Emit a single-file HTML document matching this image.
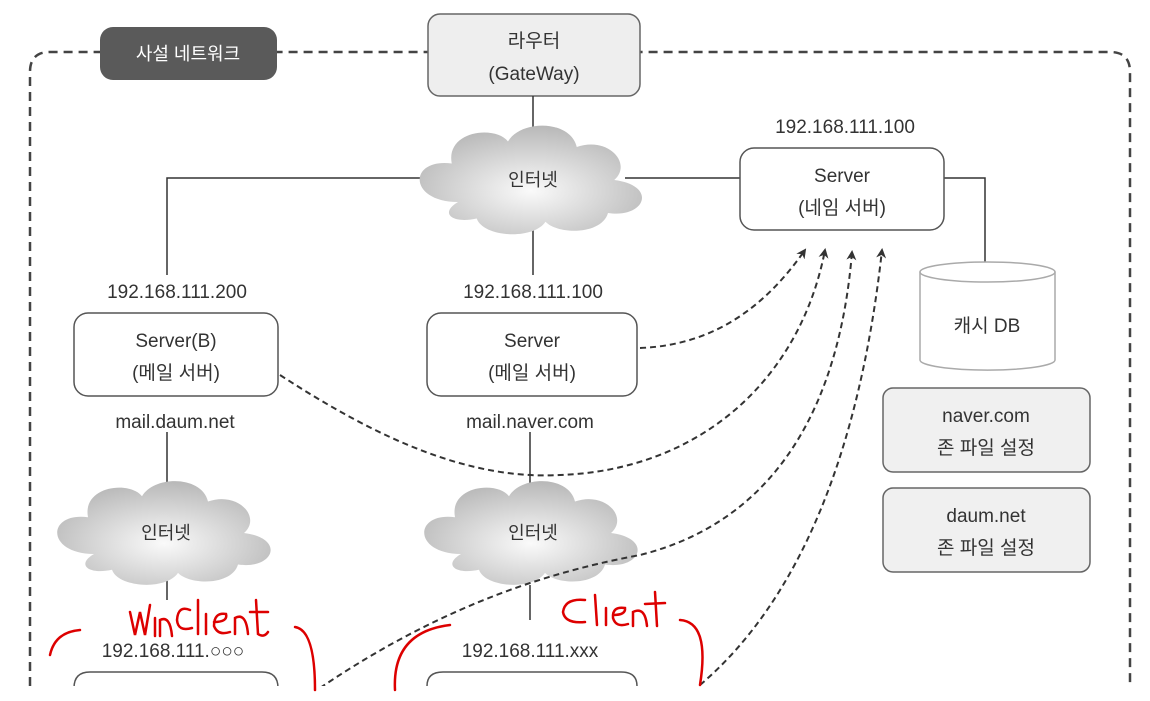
<!DOCTYPE html>
<html><head><meta charset="utf-8"><style>
body{margin:0;background:#fff;}
svg{display:block;}
text{font-family:"Liberation Sans","Noto Sans CJK KR",sans-serif;fill:#333;}
</style></head><body>
<svg width="1150" height="701" viewBox="0 0 1150 701">
<defs>
<radialGradient id="cg" cx="50%" cy="60%" r="60%"><stop offset="0" stop-color="#fafafa"/><stop offset="1" stop-color="#b8b8b8"/></radialGradient>
<marker id="ar" markerWidth="10" markerHeight="10" refX="8" refY="5" orient="auto" markerUnits="userSpaceOnUse"><path d="M0,0 L10,5 L0,10 L3,5 z" fill="#333"/></marker>
<g id="cloud"><path d="M-60,20 C-100,20 -100,-20 -65,-15 C-70,-45 -30,-50 -20,-35 C-10,-55 30,-55 35,-30 C60,-40 80,-15 65,0 C100,5 90,35 60,30 C55,50 20,50 10,38 C0,55 -40,52 -45,35 C-65,40 -75,30 -60,20 z" fill="url(#cg)"/></g>
</defs>
<rect x="0" y="0" width="1150" height="701" fill="#fff"/>
<path d="M30,686 L30,72 Q30,52 50,52 L1110,52 Q1130,52 1130,72 L1130,686" fill="none" stroke="#444" stroke-width="2.5" stroke-dasharray="9,6"/>
<rect x="100" y="27" width="177" height="53" rx="13" fill="#5a5a5a"/>
<text x="188" y="60" font-size="18" text-anchor="middle" style="fill:#fff">사설 네트워크</text>
<rect x="428" y="14" width="212" height="82" rx="12" fill="#eee" stroke="#666" stroke-width="1.5"/>
<text x="534" y="47" font-size="19" text-anchor="middle">라우터</text>
<text x="534" y="80" font-size="19" text-anchor="middle">(GateWay)</text>
<g stroke="#333" stroke-width="1.5" fill="none">
<path d="M533,96 L533,140"/>
<path d="M167,275 L167,178 L440,178"/><path d="M625,178 L740,178"/>
<path d="M533,225 L533,275"/>
<path d="M944,178 L985,178 L985,262"/>
<path d="M167,432 L167,490"/><path d="M167,580 L167,600"/>
<path d="M530,432 L530,490"/><path d="M530,585 L530,620"/>
</g>
<use href="#cloud" transform="translate(533,180) scale(1.25,1.1)"/>
<text x="533" y="186" font-size="18" text-anchor="middle">인터넷</text>
<use href="#cloud" transform="translate(166,533) scale(1.2,1.05)"/>
<text x="166" y="539" font-size="18" text-anchor="middle">인터넷</text>
<use href="#cloud" transform="translate(533,533) scale(1.2,1.05)"/>
<text x="533" y="539" font-size="18" text-anchor="middle">인터넷</text>
<text x="845" y="133" font-size="19" text-anchor="middle">192.168.111.100</text>
<rect x="740" y="148" width="204" height="82" rx="14" fill="#fff" stroke="#555" stroke-width="1.5"/>
<text x="842" y="182" font-size="19" text-anchor="middle">Server</text>
<text x="842" y="214" font-size="19" text-anchor="middle">(네임 서버)</text>
<path d="M920,272 L920,360 A67,10 0 0 0 1055,360 L1055,272" fill="#fff" stroke="#aaa" stroke-width="1.5"/>
<ellipse cx="987.5" cy="272" rx="67.5" ry="10" fill="#fff" stroke="#aaa" stroke-width="1.5"/>
<text x="987" y="332" font-size="19" text-anchor="middle">캐시 DB</text>
<rect x="883" y="388" width="207" height="84" rx="10" fill="#f0f0f0" stroke="#666" stroke-width="1.5"/>
<text x="986" y="422" font-size="19" text-anchor="middle">naver.com</text>
<text x="986" y="454" font-size="19" text-anchor="middle">존 파일 설정</text>
<rect x="883" y="488" width="207" height="84" rx="10" fill="#f0f0f0" stroke="#666" stroke-width="1.5"/>
<text x="986" y="522" font-size="19" text-anchor="middle">daum.net</text>
<text x="986" y="554" font-size="19" text-anchor="middle">존 파일 설정</text>
<text x="177" y="298" font-size="19" text-anchor="middle">192.168.111.200</text>
<rect x="74" y="313" width="204" height="83" rx="14" fill="#fff" stroke="#555" stroke-width="1.5"/>
<text x="176" y="347" font-size="19" text-anchor="middle">Server(B)</text>
<text x="176" y="379" font-size="19" text-anchor="middle">(메일 서버)</text>
<text x="175" y="428" font-size="19" text-anchor="middle">mail.daum.net</text>
<text x="533" y="298" font-size="19" text-anchor="middle">192.168.111.100</text>
<rect x="427" y="313" width="210" height="83" rx="14" fill="#fff" stroke="#555" stroke-width="1.5"/>
<text x="532" y="347" font-size="19" text-anchor="middle">Server</text>
<text x="532" y="379" font-size="19" text-anchor="middle">(메일 서버)</text>
<text x="530" y="428" font-size="19" text-anchor="middle">mail.naver.com</text>
<text x="173" y="657" font-size="19" text-anchor="middle">192.168.111.○○○</text>
<text x="530" y="657" font-size="19" text-anchor="middle">192.168.111.xxx</text>
<path d="M74,686 L74,688 Q74,672 90,672 L262,672 Q278,672 278,688" fill="none" stroke="#555" stroke-width="1.5"/>
<path d="M427,686 Q427,672 443,672 L621,672 Q637,672 637,686" fill="none" stroke="#555" stroke-width="1.5"/>
<g stroke="#333" stroke-width="2" fill="none" stroke-dasharray="6,4" marker-end="url(#ar)">
<path d="M640,348 C720,345 770,300 805,250"/>
<path d="M280,375 C380,440 470,480 560,475 C700,470 800,380 825,250"/>
<path d="M320,688 C450,600 560,570 640,555 C780,520 840,400 852,252"/>
<path d="M700,685 C800,600 860,450 882,250"/>
</g>
<rect x="0" y="686" width="1150" height="15" fill="#fff"/>
<g stroke="#d00" stroke-width="2.5" fill="none" stroke-linecap="round">
<path d="M130,612 L135,635 L140,612 L145,635 L150,605"/>
<path d="M155,618 L155,636"/>
<path d="M160,636 L160,620 Q170,615 172,636"/>
<path d="M190,610 Q178,605 177,620 Q178,632 192,628"/>
<path d="M198,600 L198,634"/>
<path d="M206,614 L206,634"/>
<path d="M214,622 Q228,622 226,614 Q214,612 214,626 Q218,636 230,632"/>
<path d="M235,634 L235,618 Q246,612 248,634"/>
<path d="M256,600 L258,634 Q264,638 268,632"/><path d="M250,612 L268,612"/>
<path d="M50,655 Q55,632 80,630"/><path d="M295,627 Q315,630 315,690"/>
<path d="M395,690 Q392,632 450,625"/><path d="M680,620 Q710,622 700,685"/>
<path d="M585,600 Q565,598 563,612 Q565,624 585,622"/>
<path d="M595,595 L597,625"/>
<path d="M606,608 L606,625"/>
<path d="M613,615 Q626,615 625,608 Q612,606 613,618 Q616,628 628,624"/>
<path d="M633,626 L633,612 Q645,606 647,626"/>
<path d="M655,592 L657,626"/><path d="M645,604 L665,603"/>
</g>
</svg>
</body></html>
